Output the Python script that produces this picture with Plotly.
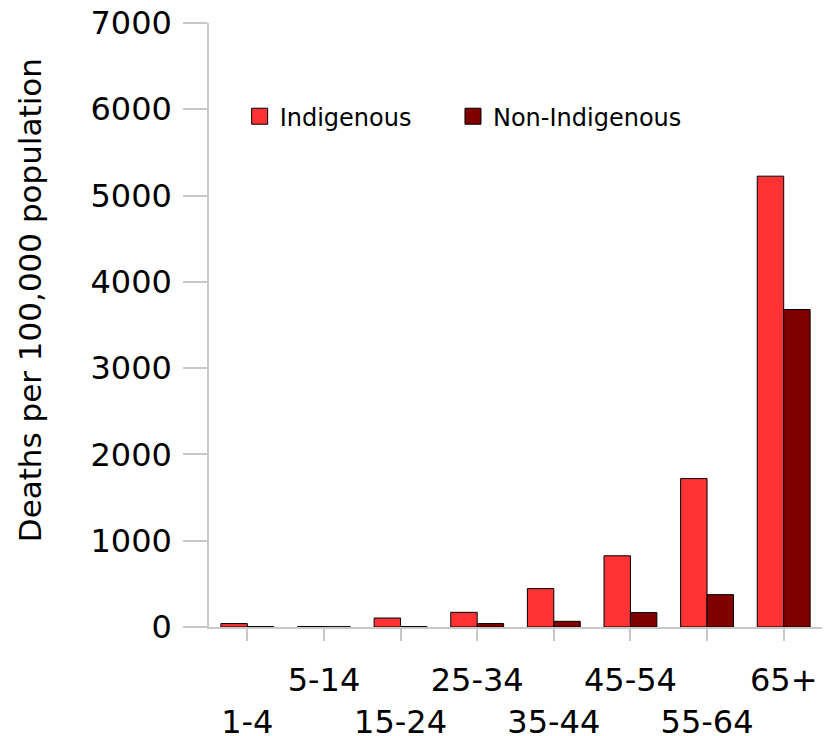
import plotly.graph_objects as go

categories = ["1-4", "5-14", "15-24", "25-34", "35-44", "45-54", "55-64", "65+"]
indigenous = [40, 6, 104, 170, 445, 825, 1720, 5225]
non_indigenous = [5, 3, 5, 40, 66, 167, 375, 3680]
y_ticks = [0, 1000, 2000, 3000, 4000, 5000, 6000, 7000]

# staggered category labels: odd positions on lower row
tick_text = [("<br>" + c) if i % 2 == 0 else c for i, c in enumerate(categories)]

FONT = "DejaVu Sans"
RED = "#ff3333"
DARK = "#800000"
GRID = "#c8c8c8"

fig = go.Figure()
fig.add_trace(go.Bar(x=categories, y=indigenous, name="Indigenous",
                     marker=dict(color=RED, line=dict(color="black", width=1)),
                     showlegend=False))
fig.add_trace(go.Bar(x=categories, y=non_indigenous, name="Non-Indigenous",
                     marker=dict(color=DARK, line=dict(color="black", width=1)),
                     showlegend=False))
# legend entries with larger square swatches
for nm, col, lg in [("Indigenous", RED, "legend"), ("Non-Indigenous", DARK, "legend2")]:
    fig.add_trace(go.Scatter(x=[None], y=[None], mode="markers", name=nm, legend=lg,
                             marker=dict(symbol="square", size=16, color=col,
                                         line=dict(color="black", width=1))))

leg_common = dict(orientation="h", xanchor="left", y=0.845, yanchor="middle",
                  font=dict(size=24, family=FONT), bgcolor="rgba(0,0,0,0)",
                  itemsizing="trace")

fig.update_layout(
    width=834, height=736,
    margin=dict(l=201, r=20, t=15, b=117),
    paper_bgcolor="white", plot_bgcolor="white",
    barmode="group", bargap=0.31, bargroupgap=0,
    font=dict(family=FONT, color="black"),
    legend=dict(x=0.050, **leg_common),
    legend2=dict(x=0.398, **leg_common),
    xaxis=dict(tickmode="array", tickvals=categories, ticktext=tick_text, tickangle=0,
               tickfont=dict(size=32, family=FONT), showline=True, linecolor=GRID,
               linewidth=1.5, ticks="outside", ticklen=12, tickcolor=GRID, tickwidth=1.5,
               showgrid=False, zeroline=False, automargin=False, ticklabelstandoff=12,
               ticklabeloverflow="allow"),
    yaxis=dict(range=[0, 7000], tickvals=y_ticks, tickfont=dict(size=32, family=FONT),
               showline=True, linecolor=GRID, linewidth=1.5, ticks="outside",
               ticklen=24, tickcolor=GRID, tickwidth=1.5, showgrid=False,
               zeroline=False, ticklabelstandoff=5, automargin=False,
               ticklabeloverflow="allow"),
    annotations=[dict(text="Deaths per 100,000 population", textangle=-90,
                      xref="paper", yref="paper", x=-0.292, y=0.541,
                      xanchor="center", yanchor="middle", showarrow=False,
                      font=dict(size=31, family=FONT, color="black"))],
)

fig.write_html("out.html")
